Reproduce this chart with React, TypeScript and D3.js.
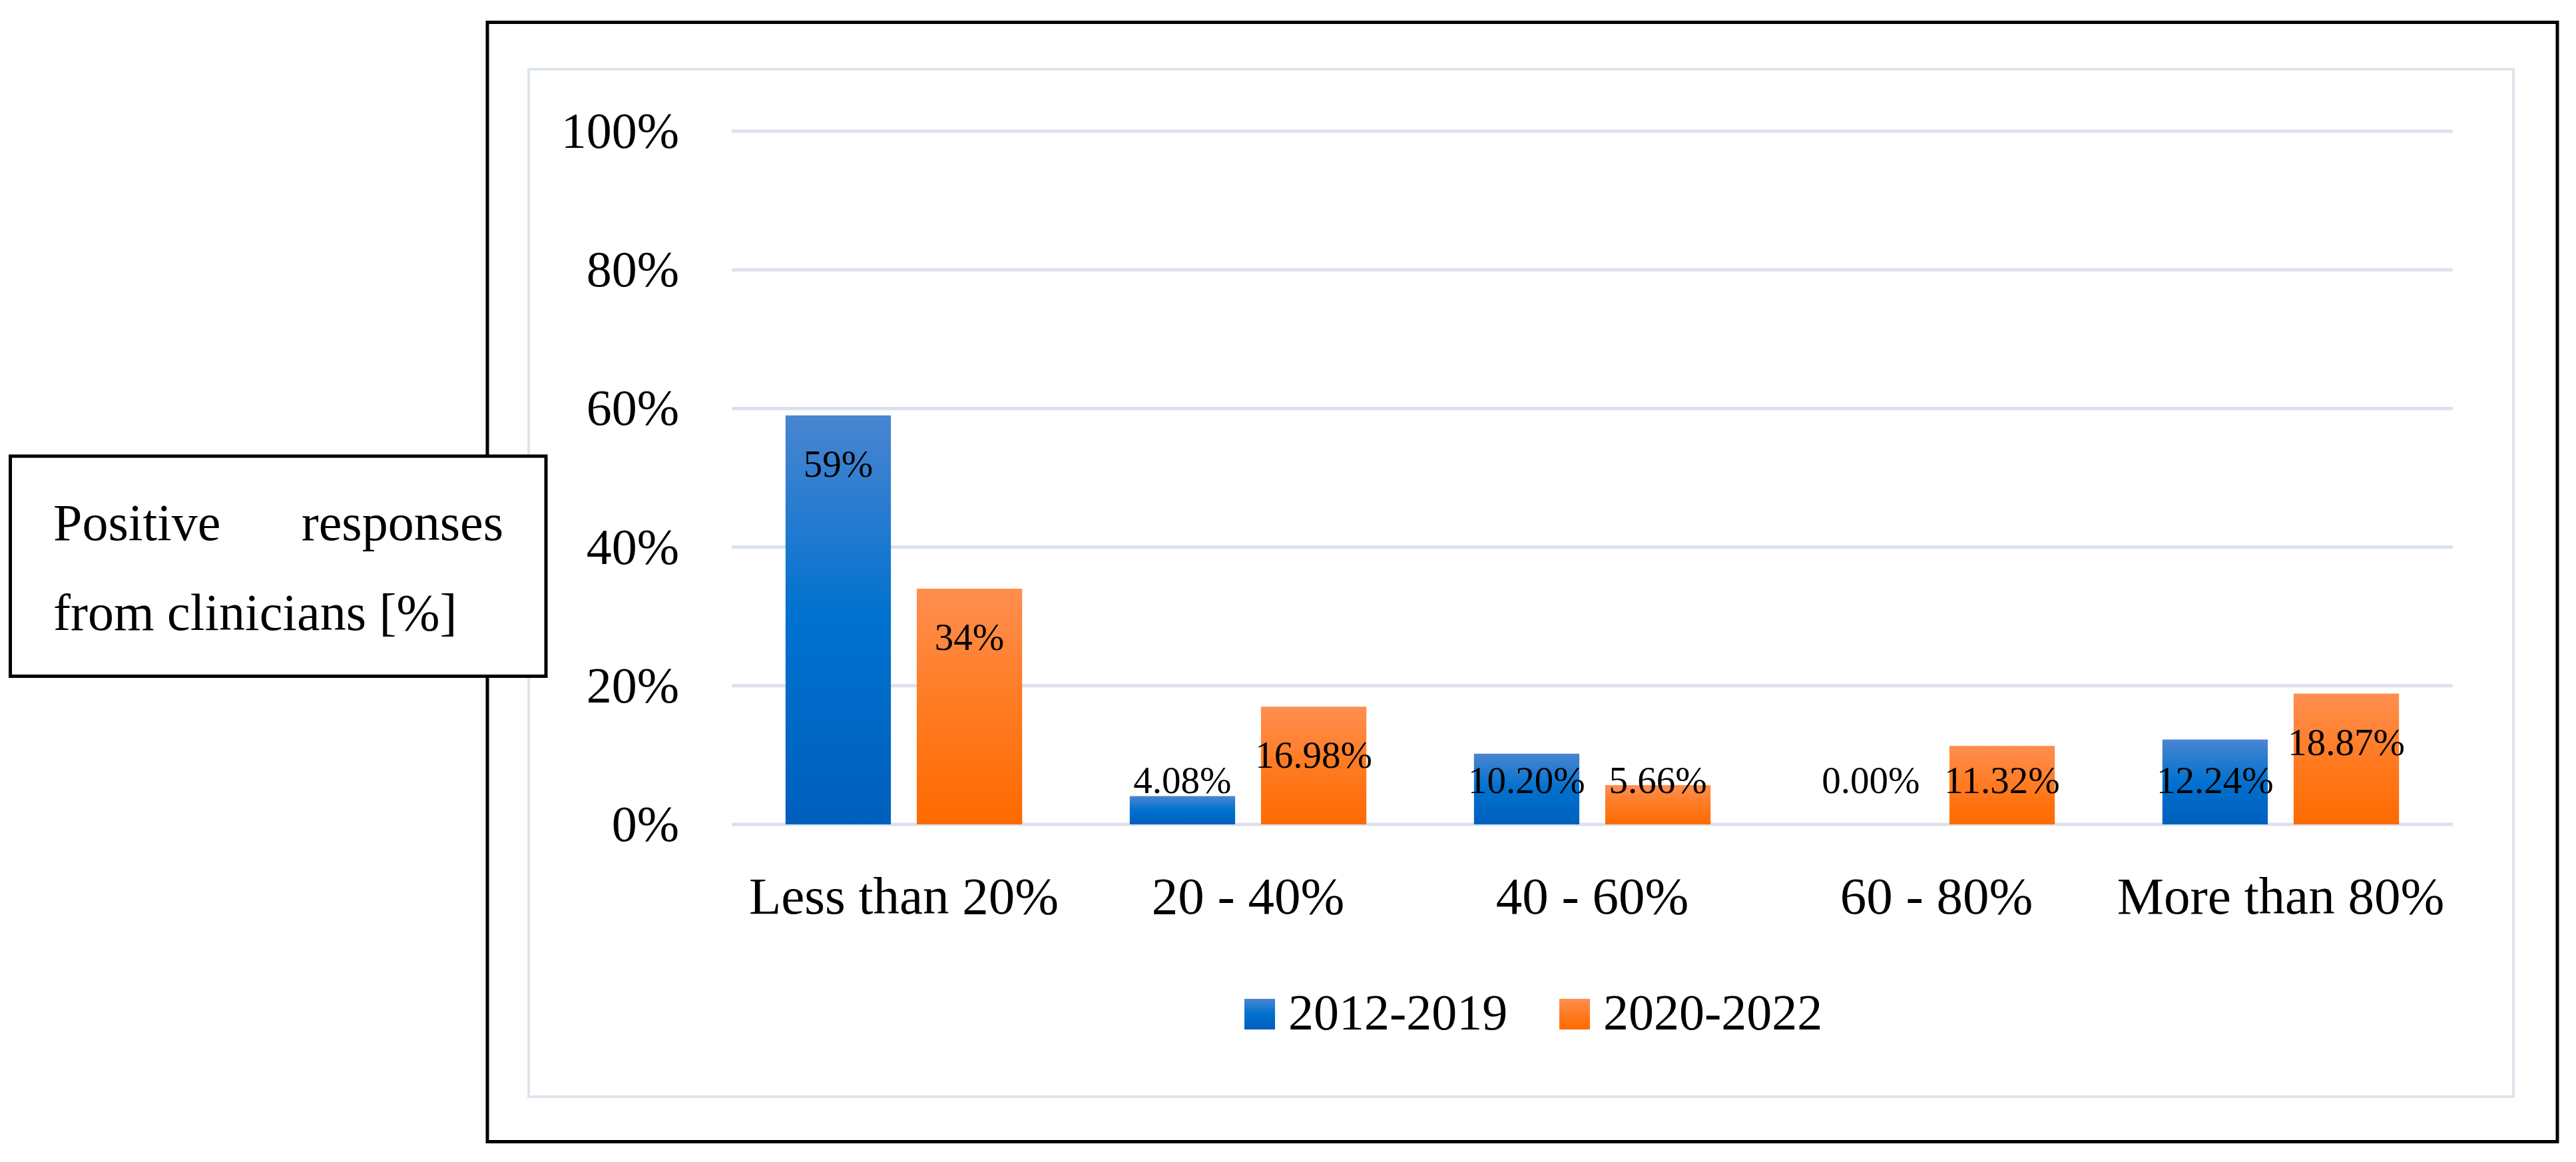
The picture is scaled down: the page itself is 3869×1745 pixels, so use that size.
import React from "react";
import * as d3 from "d3";

const categories = ["Less than 20%", "20 - 40%", "40 - 60%", "60 - 80%", "More than 80%"];
const seriesNames = ["2012-2019", "2020-2022"];
const values2012 = [59, 4.08, 10.2, 0.0, 12.24];
const values2020 = [34, 16.98, 5.66, 11.32, 18.87];
const labels2012 = ["59%", "4.08%", "10.20%", "0.00%", "12.24%"];
const labels2020 = ["34%", "16.98%", "5.66%", "11.32%", "18.87%"];
const yTicks = [0, 20, 40, 60, 80, 100];
const boxLine1 = ["Positive", "responses"];
const boxLine2 = "from clinicians [%]";

const W = 3869;
const H = 1745;
const FONT = "'Liberation Serif', 'Times New Roman', serif";

export default function App() {
  const x0 = d3.scaleBand<string>().domain(categories).range([1099, 3684]).paddingInner(0).paddingOuter(0);
  const x1 = d3
    .scaleBand<string>()
    .domain(seriesNames)
    .range([0, x0.bandwidth()])
    .paddingInner(0.197)
    .paddingOuter(0.41);
  const y = d3.scaleLinear().domain([0, 100]).range([1238, 197]);

  const series = [
    { name: seriesNames[0], values: values2012, labels: labels2012, grad: "gBlue" },
    { name: seriesNames[1], values: values2020, labels: labels2020, grad: "gOrange" },
  ];

  const legendX = [1869, 2342];

  return (
    <svg
      width={W}
      height={H}
      viewBox={`0 0 ${W} ${H}`}
      style={{ position: "absolute", left: 0, top: 0, background: "#fff" }}
    >
      <defs>
        <linearGradient id="gBlue" x1="0" y1="0" x2="0" y2="1">
          <stop offset="0%" stopColor="#4a85d1" />
          <stop offset="50%" stopColor="#0071cf" />
          <stop offset="100%" stopColor="#005fbd" />
        </linearGradient>
        <linearGradient id="gOrange" x1="0" y1="0" x2="0" y2="1">
          <stop offset="0%" stopColor="#ff8e4f" />
          <stop offset="50%" stopColor="#ff7b22" />
          <stop offset="100%" stopColor="#ff6a00" />
        </linearGradient>
      </defs>
      <rect x={0} y={0} width={W} height={H} fill="#fff" />
      {/* outer frame */}
      <rect x={732} y={33.5} width={3841 - 732} height={1714.5 - 33.5} fill="#fff" stroke="#000" strokeWidth={5} />
      {/* inner chart area */}
      <rect x={794} y={104} width={3775 - 794} height={1647 - 104} fill="#fff" stroke="#dde4ed" strokeWidth={4} />

      {/* gridlines */}
      {yTicks.map((t) => (
        <line key={"g" + t} x1={1099} x2={3684} y1={y(t)} y2={y(t)} stroke="#dbe2eb" strokeWidth={5} />
      ))}
      {/* y tick labels */}
      {yTicks.map((t) => (
        <text
          key={"t" + t}
          x={1020}
          y={y(t) + 25}
          textAnchor="end"
          fontFamily={FONT}
          fontSize={76}
          fill="#000"
        >
          {t + "%"}
        </text>
      ))}

      {/* bars */}
      {series.map((s) =>
        categories.map((c, i) => {
          const bx = (x0(c) ?? 0) + (x1(s.name) ?? 0);
          const top = y(s.values[i]);
          return s.values[i] > 0 ? (
            <rect
              key={s.name + c}
              x={bx}
              y={top}
              width={x1.bandwidth()}
              height={y(0) - top}
              fill={`url(#${s.grad})`}
            />
          ) : null;
        })
      )}

      {/* data labels */}
      {series.map((s) =>
        categories.map((c, i) => {
          const cx = (x0(c) ?? 0) + (x1(s.name) ?? 0) + x1.bandwidth() / 2;
          const top = y(s.values[i]);
          const base = Math.min(top + 92, y(0) - 47);
          return (
            <text
              key={"l" + s.name + c}
              x={cx}
              y={base}
              textAnchor="middle"
              fontFamily={FONT}
              fontSize={57}
              fill="#000"
            >
              {s.labels[i]}
            </text>
          );
        })
      )}

      {/* category labels */}
      {categories.map((c) => (
        <text
          key={"c" + c}
          x={(x0(c) ?? 0) + x0.bandwidth() / 2}
          y={1372}
          textAnchor="middle"
          fontFamily={FONT}
          fontSize={79}
          fill="#000"
        >
          {c}
        </text>
      ))}

      {/* legend */}
      {series.map((s, k) => (
        <g key={"lg" + s.name}>
          <rect x={legendX[k]} y={1500} width={46} height={46} fill={`url(#${s.grad})`} />
          <text x={legendX[k] + 66} y={1546} fontFamily={FONT} fontSize={76} fill="#000">
            {s.name}
          </text>
        </g>
      ))}

      {/* text box */}
      <rect x={15.5} y={685} width={820 - 15.5} height={1015.5 - 685} fill="#fff" stroke="#000" strokeWidth={5} />
      <text x={80} y={811} fontFamily={FONT} fontSize={78} fill="#000">
        {boxLine1[0]}
      </text>
      <text x={756} y={811} textAnchor="end" fontFamily={FONT} fontSize={78} fill="#000">
        {boxLine1[1]}
      </text>
      <text x={80} y={946} fontFamily={FONT} fontSize={78} fill="#000">
        {boxLine2}
      </text>
    </svg>
  );
}
